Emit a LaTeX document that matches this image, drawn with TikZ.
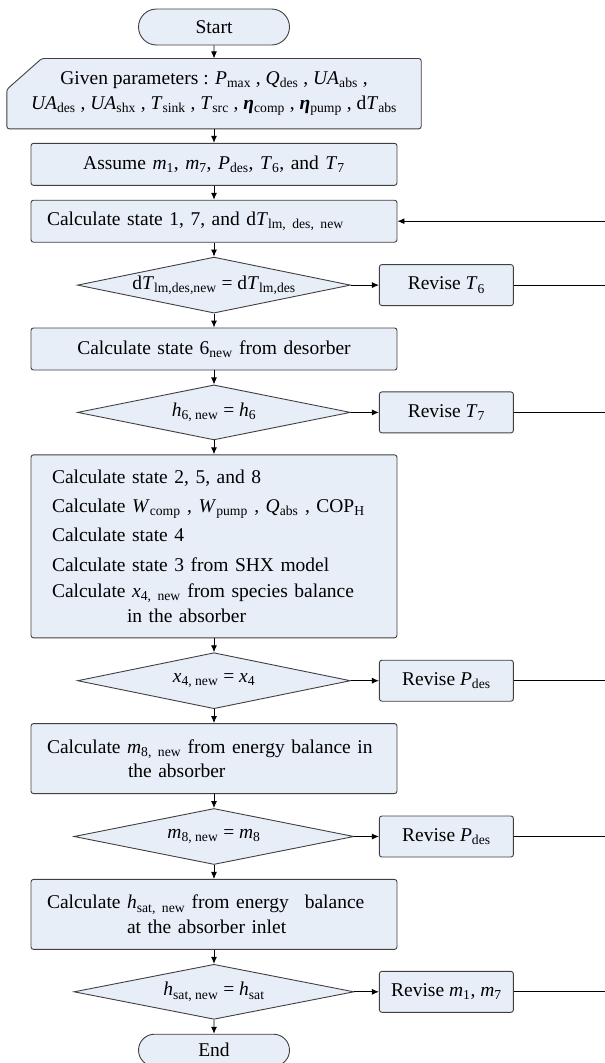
\documentclass[tikz,border=0pt]{standalone}
\usepackage{fontspec}
\setmainfont{Liberation Serif}
\usetikzlibrary{arrows.meta, positioning, shapes.geometric, shapes.misc, backgrounds}
\definecolor{boxfill}{HTML}{E8EEF8}
\definecolor{boxline}{HTML}{404040}
\newcommand{\vs}[2]{\textit{#1}\textsubscript{#2}}

\begin{document}
\begin{tikzpicture}[x=1pt, y=-1pt, node distance=14pt,
		font=\fontsize{19.5}{24.5}\selectfont,
		base/.style={draw=boxline, fill=boxfill, line width=0.9pt},
		term/.style={base, rounded rectangle, minimum width=151pt, minimum height=36pt, inner sep=0pt},
		given/.style={rectangle, minimum width=414pt, minimum height=70pt, align=center, inner sep=0pt},
		proc/.style={base, rectangle, rounded corners=2.5pt, minimum height=42pt,
			text width=334pt, inner xsep=16pt, align=center},
		decision/.style={base, diamond, aspect=4.9, minimum width=273pt, minimum height=56pt, inner sep=0pt},
		revise/.style={base, rectangle, rounded corners=2.5pt, minimum width=134pt, minimum height=41pt},
		flow/.style={-{Latex[length=7pt,width=6pt]}, line width=0.9pt}]
		
		\useasboundingbox (0,0) rectangle (605,1063);
		
		%start
		\node[term] (start) at (214,27) {Start};
		%given
		\node[given, below=13pt of start] (given) {Given parameters : \vs{P}{max} , \vs{Q}{des} , \vs{UA}{abs} ,\\
			\vs{UA}{des} , \vs{UA}{shx} , \vs{T}{sink} , \vs{T}{src} , \vs{\textbf{η}}{comp} , \vs{\textbf{η}}{pump} , d\vs{T}{abs}};
		\begin{scope}[on background layer]
			\draw[base, rounded corners=2.5pt] (given.south west) -- (given.south east) -- (given.north east)
				-- ([xshift=35pt]given.north west) -- ([yshift=-31pt]given.north west) -- cycle;
		\end{scope}
		%assume
		\node[proc, below=of given] (assume) {Assume \vs{m}{1}, \vs{m}{7}, \vs{P}{des}, \vs{T}{6}, and \vs{T}{7}};
		%calc17
		\node[proc, align=left, below=of assume] (calc17) {Calculate state 1, 7, and d\vs{T}{lm, des, new}};
		%dec1
		\node[decision, below=of calc17] (dec1) {d\vs{T}{lm,des,new} = d\vs{T}{lm,des}};
		%calc6
		\node[proc, below=of dec1] (calc6) {Calculate state 6\textsubscript{new} from desorber};
		%dec2
		\node[decision, minimum height=55pt, below=of calc6] (dec2) {\vs{h}{6, new} = \vs{h}{6}};
		%states
		\node[proc, align=left, text width=324pt, inner xsep=21pt, minimum height=183pt, below=of dec2] (states) {Calculate state 2, 5, and 8\\[4pt]
			Calculate \vs{W}{comp} , \vs{W}{pump} , \vs{Q}{abs} , COP\textsubscript{H}\\[5pt]
			Calculate state 4\\[5pt]
			Calculate state 3 from SHX model\\[2pt]
			Calculate \vs{x}{4, new} from species balance\\
			\hspace*{75pt}in the absorber};
		%dec3
		\node[decision, below=of states] (dec3) {\vs{x}{4, new} = \vs{x}{4}};
		%calcm8
		\node[proc, align=left, minimum height=70pt, below=of dec3] (calcm8) {Calculate \vs{m}{8, new} from energy balance in\\
			\hspace*{81pt}the absorber};
		%dec4
		\node[decision, minimum width=280pt, below=of calcm8] (dec4) {\vs{m}{8, new} = \vs{m}{8}};
		%calchsat
		\node[proc, align=left, minimum height=70pt, below=of dec4] (calchsat) {Calculate \vs{h}{sat, new} from energy\hspace{16pt}balance\\
			\hspace*{80pt}at the absorber inlet};
		%dec5
		\node[decision, minimum width=280pt, minimum height=55pt, below=of calchsat] (dec5) {\vs{h}{sat, new} = \vs{h}{sat}};
		%end
		\node[term, minimum height=32pt, below=of dec5] (end) {End};
		
		%revise boxes
		\node[revise, right=28pt of dec1] (rev1) {Revise \vs{T}{6}};
		\node[revise, right=28pt of dec2] (rev2) {Revise \vs{T}{7}};
		\node[revise, right=28pt of dec3] (rev3) {Revise \vs{P}{des}};
		\node[revise, right=24.5pt of dec4] (rev4) {Revise \vs{P}{des}};
		\node[revise, right=24.5pt of dec5] (rev5) {Revise \vs{m}{1}, \vs{m}{7}};
		
		%return rail
		\coordinate[right=211pt of calc17] (rail);
		
		% main line
		\draw[flow] (start) edge (given);
		\draw[flow] (given) edge (assume);
		\draw[flow] (assume) edge (calc17);
		\draw[flow] (calc17) edge (dec1);
		\draw[flow] (dec1) edge (calc6);
		\draw[flow] (calc6) edge (dec2);
		\draw[flow] (dec2) edge (states);
		\draw[flow] (states) edge (dec3);
		\draw[flow] (dec3) edge (calcm8);
		\draw[flow] (calcm8) edge (dec4);
		\draw[flow] (dec4) edge (calchsat);
		\draw[flow] (calchsat) edge (dec5);
		\draw[flow] (dec5) edge (end);
		
		% to revise
		\foreach \i in {1,...,5}{
			\draw[flow] (dec\i) -- (rev\i);
			\draw[line width=0.9pt] (rev\i) -- (rev\i -| rail) -- (rail);
		}
		
		% back to calc17
		\draw[flow] (rail) -- (calc17);
		
\end{tikzpicture}
\end{document}
